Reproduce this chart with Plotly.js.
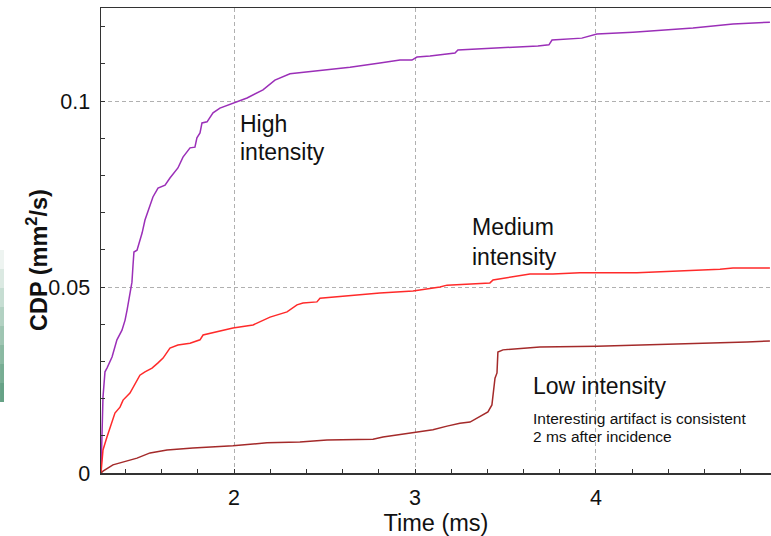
<!DOCTYPE html>
<html>
<head>
<meta charset="utf-8">
<script src="https://cdn.plot.ly/plotly-3.0.1.min.js"></script>
<style>html,body{margin:0;padding:0;background:#fff;}#chart{width:771px;height:536px;}</style>
</head>
<body>
<div id="chart"></div>
<script>
// ---- Data ----
const seriesNames = ["High intensity", "Medium intensity", "Low intensity"];

const highTime = [1.265,1.271,1.276,1.287,1.298,1.326,1.353,1.381,1.398,1.409,1.425,1.436,1.442,1.447,1.464,1.492,1.508,1.552,1.580,1.619,1.646,1.690,1.718,1.757,1.784,1.795,1.812,1.823,1.851,1.884,1.922,1.994,2.072,2.160,2.226,2.309,2.475,2.641,2.806,2.917,2.983,3.011,3.083,3.221,3.237,3.469,3.679,3.740,3.757,3.922,4.005,4.204,4.536,4.757,4.961];
const highCDP  = [0,0.0089,0.0204,0.0272,0.0282,0.0312,0.0358,0.0384,0.0411,0.0438,0.0484,0.0513,0.0559,0.0594,0.0599,0.0645,0.0680,0.0742,0.0766,0.0774,0.0793,0.0820,0.0849,0.0874,0.0876,0.0901,0.0914,0.0941,0.0944,0.0968,0.0981,0.0995,0.1008,0.1030,0.1056,0.1073,0.1081,0.1091,0.1102,0.1110,0.1110,0.1118,0.1121,0.1129,0.1137,0.1142,0.1148,0.1151,0.1164,0.1169,0.1180,0.1185,0.1196,0.1207,0.1212];

const medTime = [1.265,1.271,1.276,1.298,1.315,1.342,1.370,1.387,1.425,1.442,1.464,1.480,1.508,1.547,1.580,1.608,1.646,1.690,1.757,1.812,1.829,1.906,1.994,2.105,2.143,2.199,2.293,2.348,2.381,2.458,2.475,2.624,2.806,2.989,3.138,3.177,3.414,3.431,3.525,3.635,3.762,3.911,4.226,4.503,4.685,4.757,4.961];
const medCDP  = [0,0.0035,0.0062,0.0097,0.0124,0.0161,0.0177,0.0196,0.0215,0.0231,0.0250,0.0263,0.0272,0.0282,0.0296,0.0309,0.0336,0.0344,0.0349,0.0358,0.0371,0.0379,0.0390,0.0398,0.0406,0.0419,0.0433,0.0452,0.0457,0.0460,0.0470,0.0476,0.0484,0.0489,0.0500,0.0505,0.0511,0.0519,0.0527,0.0535,0.0535,0.0538,0.0538,0.0543,0.0548,0.0551,0.0551];

const lowTime = [1.265,1.276,1.331,1.387,1.464,1.536,1.630,1.773,1.994,2.182,2.364,2.514,2.768,2.823,2.989,3.099,3.177,3.248,3.304,3.359,3.403,3.425,3.436,3.442,3.453,3.458,3.486,3.690,4.005,4.282,4.558,4.834,4.961];
const lowCDP  = [0,0.0005,0.0022,0.0030,0.0040,0.0054,0.0062,0.0067,0.0073,0.0081,0.0083,0.0089,0.0091,0.0097,0.0108,0.0116,0.0126,0.0134,0.0137,0.0151,0.0164,0.0183,0.0223,0.0255,0.0269,0.0325,0.0331,0.0339,0.0341,0.0344,0.0349,0.0352,0.0355];

const xTickVals = [2, 3, 4];
const xTickText = ["2", "3", "4"];
const yTickVals = [0, 0.05, 0.1];
const yTickText = ["0", "0.05", "0.1"];

// ---- Styles ----
const FONT = "Liberation Sans, Arial, Helvetica, sans-serif";
const colors = ["#9b2fb8", "#ff2a2a", "#a42a2a"];

const traces = [
  {x: highTime, y: highCDP, name: seriesNames[0]},
  {x: medTime, y: medCDP, name: seriesNames[1]},
  {x: lowTime, y: lowCDP, name: seriesNames[2]}
].map((t, i) => Object.assign(t, {
  type: "scatter", mode: "lines",
  line: {color: colors[i], width: 1.5},
  hoverinfo: "skip"
}));

// gradient strip at the far left (decorative)
const stripColors = ["#eef4f1","#dbe9e2","#c6ddd2","#b2d1c2","#9ec5b2","#8ab9a2","#77ad93","#66a286"];
const shapes = stripColors.map((c, i) => ({
  type: "rect", xref: "paper", yref: "paper", layer: "above",
  x0: -0.1507, x1: -0.1448,
  y0: (473 - (250 + (i + 1) * 19)) / 465, y1: (473 - (250 + i * 19)) / 465,
  fillcolor: c, line: {width: 0}
}));

const ann = (text, x, y, size, extra) => Object.assign({
  text, x, y, xref: "x", yref: "y", xanchor: "left", yanchor: "middle",
  showarrow: false, font: {family: FONT, size, color: "#111"}
}, extra || {});

const annotations = [
  ann("High", 2.022, 0.0938, 23),
  ann("intensity", 2.022, 0.0863, 23),
  ann("Medium", 3.304, 0.0661, 23),
  ann("intensity", 3.304, 0.0581, 23),
  ann("Low intensity", 3.641, 0.0234, 23),
  ann("Interesting artifact is consistent", 3.641, 0.0146, 15.5),
  ann("2 ms after incidence", 3.641, 0.0097, 15.5),
  {text: "<b>CDP (mm<sup>2</sup>/s)</b>", xref: "paper", yref: "paper",
   x: -0.0955, y: 0.458, xanchor: "center", yanchor: "middle", textangle: -90,
   showarrow: false, font: {family: FONT, size: 23.5, color: "#111"}}
];

const layout = {
  width: 771, height: 536,
  margin: {l: 101, r: 0, t: 8, b: 63},
  paper_bgcolor: "#ffffff", plot_bgcolor: "#ffffff",
  showlegend: false,
  font: {family: FONT, color: "#111"},
  xaxis: {
    range: [1.265, 4.967],
    tickmode: "array", tickvals: xTickVals, ticktext: xTickText,
    showgrid: true, gridcolor: "#b0b0b0", griddash: "4px,3px", gridwidth: 1,
    zeroline: false,
    showline: true, linecolor: "#333", linewidth: 1.5, mirror: true,
    ticks: "inside", ticklen: 4, tickcolor: "#333",
    minor: {dtick: 0.2, tick0: 0, ticks: "inside", ticklen: 4, tickcolor: "#333", showgrid: false},
    tickfont: {family: FONT, size: 21.5, color: "#111"},
    ticklabelstandoff: 5,
    title: {text: "Time (ms)", font: {family: FONT, size: 23.5, color: "#111"}, standoff: 2},
    automargin: false
  },
  yaxis: {
    range: [0, 0.125],
    tickmode: "array", tickvals: yTickVals, ticktext: yTickText,
    showgrid: true, gridcolor: "#b0b0b0", griddash: "4px,3px", gridwidth: 1,
    zeroline: false,
    showline: true, linecolor: "#333", linewidth: 1.5,
    ticks: "inside", ticklen: 4, tickcolor: "#333",
    minor: {dtick: 0.01, tick0: 0, ticks: "inside", ticklen: 4, tickcolor: "#333", showgrid: false},
    tickfont: {family: FONT, size: 21.5, color: "#111"},
    ticklabelstandoff: 5,
    automargin: false
  },
  shapes, annotations
};

Plotly.newPlot("chart", traces, layout, {displayModeBar: false, staticPlot: true});
</script>
</body>
</html>
